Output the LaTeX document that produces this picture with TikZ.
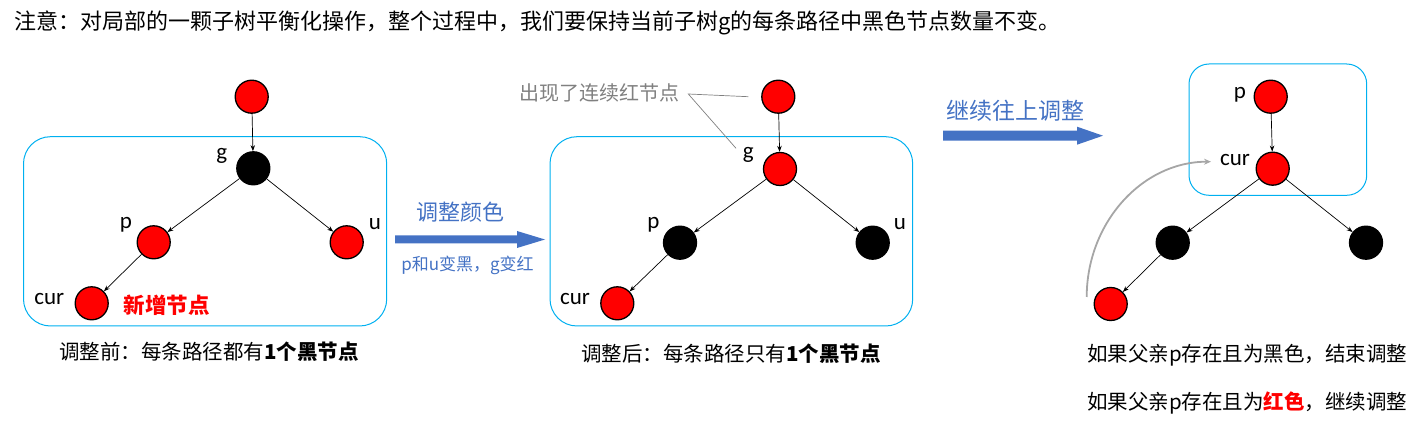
\documentclass[tikz,border=0pt]{standalone}
\usepackage{fontspec}
\setmainfont{Noto Sans CJK SC}
\newfontfamily\lat{Carlito}
\usetikzlibrary{arrows.meta}
\definecolor{boxblue}{RGB}{0,176,240}
\definecolor{txtblue}{RGB}{68,114,196}
\definecolor{nred}{RGB}{255,0,0}
\definecolor{grtxt}{RGB}{128,128,128}
\definecolor{grcurve}{RGB}{166,166,166}
\tikzset{
  rb/.style={circle,draw=black,line width=1.3pt,fill=nred,minimum size=33pt,inner sep=0pt},
  bb/.style={circle,draw=black,line width=1.3pt,fill=black,minimum size=33pt,inner sep=0pt},
  lbl/.style={font=\lat\fontsize{23}{23}\selectfont,inner sep=0pt},
  edge/.style={draw=black,line width=0.7pt,-{Stealth[length=6pt,width=4.5pt]}},
  frame/.style={draw=boxblue,line width=1pt,rounded corners=27pt},
  captxt/.style={font=\fontsize{20.5}{21}\selectfont,inner sep=0pt},
  bluet/.style={text=txtblue,inner sep=0pt},
}
\begin{document}
\begin{tikzpicture}[x=1pt,y=-1pt]
\useasboundingbox (0,0) rectangle (1426,427);
% title
\node[anchor=west,inner sep=0pt,font=\fontsize{22}{22}\selectfont] (title) at (14,23) {注意：对局部的一颗子树平衡化操作，整个过程中，我们要保持当前子树g的每条路径中黑色节点数量不变。};

% ---------- tree 1 ----------
\draw[frame] (23.5,136.7) rectangle (386.7,326);
\node[rb] (r1) at (251.7,96.7) {};
\node[bb] (g1) at (253.3,168.3) {};
\node[rb] (p1) at (153.7,242.3) {};
\node[rb] (u1) at (346.7,242.3) {};
\node[rb] (c1) at (91.7,303.3) {};
\draw[edge] (r1) -- (g1);
\draw[edge] (g1) -- (p1);
\draw[edge] (g1) -- (u1);
\draw[edge] (p1) -- (c1);
\node[lbl] (lg1) at (221.7,156) {g};
\node[lbl] (lp1) at (126,225) {p};
\node[lbl] (lu1) at (375,224) {u};
\node[lbl] (lc1) at (49.3,299) {cur};
\node[inner sep=0pt,text=nred,font=\fontsize{21.5}{22}\selectfont\bfseries] (new) at (166.7,305) {新增节点};
\node[captxt] (cap1) at (209,352) {调整前：每条路径都有\textbf{1个黑节点}};

% ---------- arrow 1 ----------
\fill[txtblue] (395,235.5) -- (517,235.5) -- (517,231) -- (545,239.5) -- (517,248) -- (517,243.5) -- (395,243.5) -- cycle;
\node[bluet,font=\fontsize{22}{22}\selectfont] (t1) at (460,212.5) {调整颜色};
\node[bluet,font=\fontsize{17}{17}\selectfont] (t2) at (467.5,265) {p和u变黑，g变红};

% ---------- tree 2 ----------
\draw[frame] (550,136.7) rectangle (912.7,326);
\node[rb] (r2) at (778.3,96.7) {};
\node[rb] (g2) at (780,169) {};
\node[bb] (p2) at (680,242.7) {};
\node[bb] (u2) at (872.7,242.7) {};
\node[rb] (c2) at (617.3,303.3) {};
\draw[edge] (r2) -- (g2);
\draw[edge] (g2) -- (p2);
\draw[edge] (g2) -- (u2);
\draw[edge] (p2) -- (c2);
\node[lbl] (lg2) at (748.3,155) {g};
\node[lbl] (lp2) at (653.3,225) {p};
\node[lbl] (lu2) at (900,224) {u};
\node[lbl] (lc2) at (575,299) {cur};
\node[inner sep=0pt,text=grtxt,font=\fontsize{20}{20}\selectfont] (note) at (599,93.3) {出现了连续红节点};
\coordinate (nj) at (688.3,94);
\draw[grtxt,line width=0.7pt] (748.3,96.7) -- (nj) -- (736,148.3);
\node[captxt] (cap2) at (731,353.3) {调整后：每条路径只有\textbf{1个黑节点}};

% ---------- arrow 2 ----------
\fill[txtblue] (943,130.7) -- (1077,130.7) -- (1077,126.7) -- (1103,135.7) -- (1077,144.7) -- (1077,140.7) -- (943,140.7) -- cycle;
\node[bluet,font=\fontsize{23}{23}\selectfont] (t3) at (1015,110.7) {继续往上调整};

% ---------- tree 3 ----------
\draw[frame,rounded corners=20pt] (1189,64) rectangle (1366.7,195.3);
\node[rb] (p3) at (1270.7,96.7) {};
\node[rb] (c3) at (1272.7,168.7) {};
\node[bb] (l3) at (1172.7,242.7) {};
\node[bb] (r3) at (1366,242.7) {};
\node[rb] (ll3) at (1110.7,304) {};
\draw[edge] (p3) -- (c3);
\draw[edge] (c3) -- (l3);
\draw[edge] (c3) -- (r3);
\draw[edge] (l3) -- (ll3);
\node[lbl] (lp3) at (1240,95) {p};
\node[lbl] (lc3) at (1235,160) {cur};
\coordinate (cs) at (1086.7,297);
\coordinate (ce) at (1211,161.7);
\draw[grcurve,line width=1.8pt,-{Stealth[length=7pt,width=6pt]}] (cs) .. controls (1086.7,223) and (1142,161.7) .. (ce);
\node[captxt,anchor=west] (b1) at (1087,355) {如果父亲p存在且为黑色，结束调整};
\node[captxt,anchor=west] (b2) at (1087,403.3) {如果父亲p存在且为\textcolor{nred}{\textbf{红色}}，继续调整};
\end{tikzpicture}
\end{document}
